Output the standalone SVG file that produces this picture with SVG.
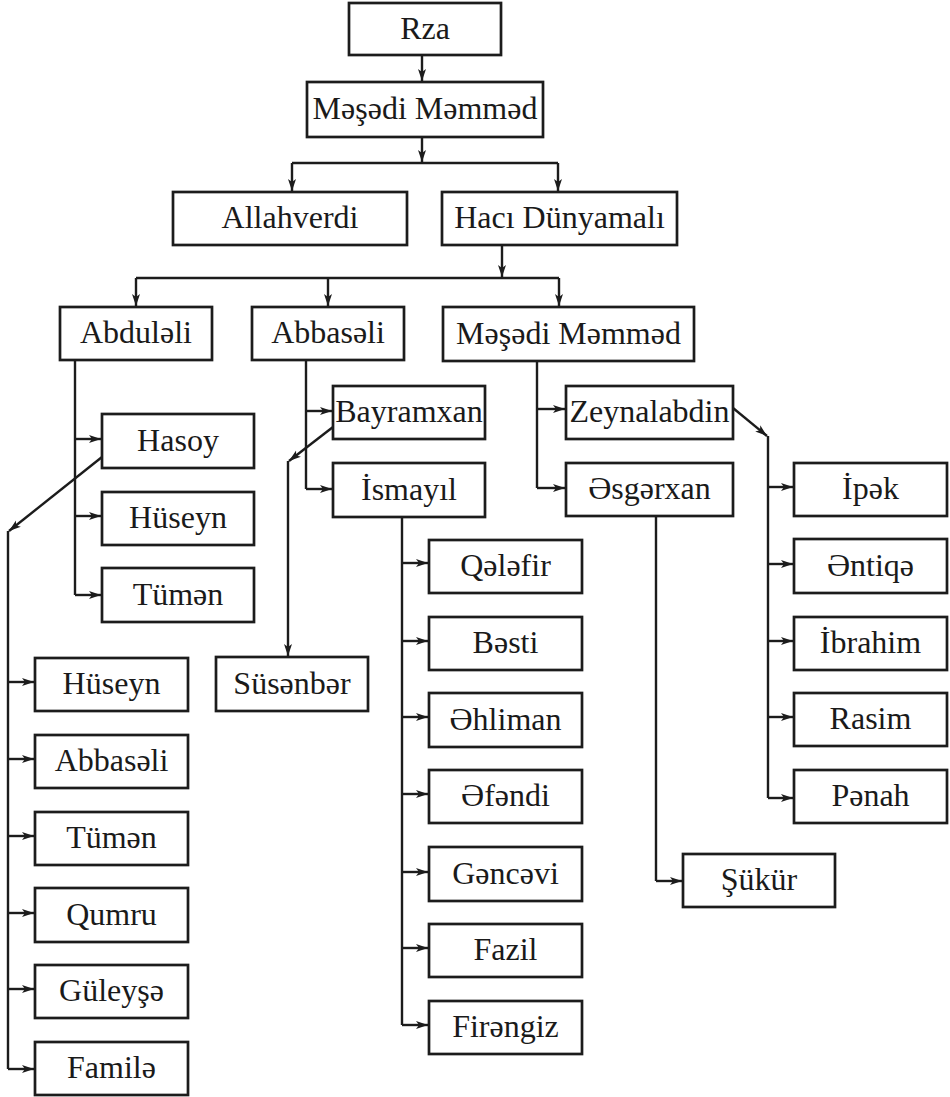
<svg xmlns="http://www.w3.org/2000/svg" width="950" height="1097" viewBox="0 0 950 1097">
<style>
.b{fill:#fff;stroke:#1c1c1c;stroke-width:2.7}
.t{font-family:"Liberation Serif","Times New Roman",serif;font-size:32px;fill:#1a1a1a;text-anchor:middle}
.c{fill:none;stroke:#1c1c1c;stroke-width:2.4}
.a{marker-end:url(#ah)}
</style>
<defs>
<marker id="ah" markerUnits="userSpaceOnUse" markerWidth="13" markerHeight="10" refX="12" refY="5" orient="auto">
<path d="M0,1 L12,5 L0,9 L3,5 z" fill="#1c1c1c"/>
</marker>
</defs>
<rect width="950" height="1097" fill="#fff"/>
<g id="connectors">
<path class="c a" d="M422,55 V81"/>
<path class="c a" d="M422,137 V162"/>
<path class="c a" d="M292,163 H558 M292,163 V191"/>
<path class="c a" d="M558,163 V191"/>
<path class="c a" d="M502,245 V277"/>
<path class="c" d="M136,278 H559"/>
<path class="c a" d="M136,278 V306"/>
<path class="c a" d="M328,278 V306"/>
<path class="c a" d="M559,278 V306"/>
<path class="c" d="M75,360 V595"/>
<path class="c a" d="M75,439 H101"/>
<path class="c a" d="M75,516 H101"/>
<path class="c a" d="M75,595 H101"/>
<path class="c a" d="M102,457 L9,531"/>
<path class="c" d="M8,531 V1069"/>
<path class="c a" d="M8,682 H34"/>
<path class="c a" d="M8,759 H34"/>
<path class="c a" d="M8,836 H34"/>
<path class="c a" d="M8,913 H34"/>
<path class="c a" d="M8,989 H34"/>
<path class="c a" d="M8,1069 H34"/>
<path class="c" d="M306,360 V489"/>
<path class="c a" d="M306,411 H332"/>
<path class="c a" d="M306,489 H332"/>
<path class="c a" d="M333,427 L289,461"/>
<path class="c a" d="M288,461 V656"/>
<path class="c" d="M402,517 V1025"/>
<path class="c a" d="M402,563 H428"/>
<path class="c a" d="M402,641 H428"/>
<path class="c a" d="M402,717 H428"/>
<path class="c a" d="M402,794 H428"/>
<path class="c a" d="M402,872 H428"/>
<path class="c a" d="M402,948 H428"/>
<path class="c a" d="M402,1025 H428"/>
<path class="c" d="M537,361 V488"/>
<path class="c a" d="M537,409 H565"/>
<path class="c a" d="M537,488 H565"/>
<path class="c a" d="M733,408 L767,436"/>
<path class="c" d="M768,436 V798"/>
<path class="c a" d="M768,487 H793"/>
<path class="c a" d="M768,564 H793"/>
<path class="c a" d="M768,641 H793"/>
<path class="c a" d="M768,717 H793"/>
<path class="c a" d="M768,798 H793"/>
<path class="c" d="M656,516 V881"/>
<path class="c a" d="M656,881 H682"/>
</g>
<g id="rza"><rect class="b" x="349" y="3" width="152" height="52"/><text class="t" x="425" y="38.5">Rza</text></g>
<g id="mesedi-memmed-1"><rect class="b" x="307" y="82" width="236" height="55"/><text class="t" x="425" y="119">Məşədi Məmməd</text></g>
<g id="allahverdi"><rect class="b" x="173" y="192" width="234" height="53"/><text class="t" x="290" y="228">Allahverdi</text></g>
<g id="haci-dunyamali"><rect class="b" x="442" y="192" width="235" height="53"/><text class="t" x="559.5" y="228">Hacı Dünyamalı</text></g>
<g id="abduleli"><rect class="b" x="60" y="307" width="152" height="53"/><text class="t" x="136" y="343">Abduləli</text></g>
<g id="abbaseli"><rect class="b" x="252" y="307" width="152" height="53"/><text class="t" x="328" y="343">Abbasəli</text></g>
<g id="mesedi-memmed-2"><rect class="b" x="443" y="307" width="251" height="54"/><text class="t" x="568.5" y="343.5">Məşədi Məmməd</text></g>
<g id="hasoy"><rect class="b" x="102" y="414" width="152" height="54"/><text class="t" x="178" y="450.5">Hasoy</text></g>
<g id="huseyn-1"><rect class="b" x="102" y="492" width="152" height="53"/><text class="t" x="178" y="528">Hüseyn</text></g>
<g id="tumen-1"><rect class="b" x="102" y="568" width="152" height="54"/><text class="t" x="178" y="604.5">Tümən</text></g>
<g id="bayramxan"><rect class="b" x="333" y="386" width="152" height="53"/><text class="t" x="409" y="422">Bayramxan</text></g>
<g id="ismayil"><rect class="b" x="333" y="463" width="152" height="54"/><text class="t" x="409" y="499.5">İsmayıl</text></g>
<g id="zeynalabdin"><rect class="b" x="566" y="386" width="167" height="53"/><text class="t" x="649.5" y="422">Zeynalabdin</text></g>
<g id="esgerxan"><rect class="b" x="566" y="463" width="167" height="53"/><text class="t" x="649.5" y="499">Əsgərxan</text></g>
<g id="ipek"><rect class="b" x="794" y="463" width="153" height="53"/><text class="t" x="870.5" y="499">İpək</text></g>
<g id="entiqe"><rect class="b" x="794" y="539" width="153" height="54"/><text class="t" x="870.5" y="575.5">Əntiqə</text></g>
<g id="ibrahim"><rect class="b" x="794" y="617" width="153" height="53"/><text class="t" x="870.5" y="653">İbrahim</text></g>
<g id="rasim"><rect class="b" x="794" y="693" width="153" height="53"/><text class="t" x="870.5" y="729">Rasim</text></g>
<g id="penah"><rect class="b" x="794" y="770" width="153" height="53"/><text class="t" x="870.5" y="806">Pənah</text></g>
<g id="sukur"><rect class="b" x="683" y="854" width="152" height="53"/><text class="t" x="759" y="890">Şükür</text></g>
<g id="qelefir"><rect class="b" x="429" y="540" width="153" height="53"/><text class="t" x="505.5" y="576">Qələfir</text></g>
<g id="besti"><rect class="b" x="429" y="617" width="153" height="53"/><text class="t" x="505.5" y="653">Bəsti</text></g>
<g id="ehliman"><rect class="b" x="429" y="693" width="153" height="54"/><text class="t" x="505.5" y="729.5">Əhliman</text></g>
<g id="efendi"><rect class="b" x="429" y="770" width="153" height="53"/><text class="t" x="505.5" y="806">Əfəndi</text></g>
<g id="gencevi"><rect class="b" x="429" y="847" width="153" height="54"/><text class="t" x="505.5" y="883.5">Gəncəvi</text></g>
<g id="fazil"><rect class="b" x="429" y="924" width="153" height="53"/><text class="t" x="505.5" y="960">Fazil</text></g>
<g id="firengiz"><rect class="b" x="429" y="1001" width="153" height="53"/><text class="t" x="505.5" y="1037">Firəngiz</text></g>
<g id="susenber"><rect class="b" x="216" y="657" width="152" height="54"/><text class="t" x="292" y="693.5">Süsənbər</text></g>
<g id="huseyn-2"><rect class="b" x="35" y="658" width="153" height="53"/><text class="t" x="111.5" y="694">Hüseyn</text></g>
<g id="abbaseli-2"><rect class="b" x="35" y="735" width="153" height="53"/><text class="t" x="111.5" y="771">Abbasəli</text></g>
<g id="tumen-2"><rect class="b" x="35" y="812" width="153" height="53"/><text class="t" x="111.5" y="848">Tümən</text></g>
<g id="qumru"><rect class="b" x="35" y="888" width="153" height="54"/><text class="t" x="111.5" y="924.5">Qumru</text></g>
<g id="guleyse"><rect class="b" x="35" y="965" width="153" height="53"/><text class="t" x="111.5" y="1001">Güleyşə</text></g>
<g id="famile"><rect class="b" x="35" y="1042" width="153" height="53"/><text class="t" x="111.5" y="1078">Familə</text></g>
</svg>
